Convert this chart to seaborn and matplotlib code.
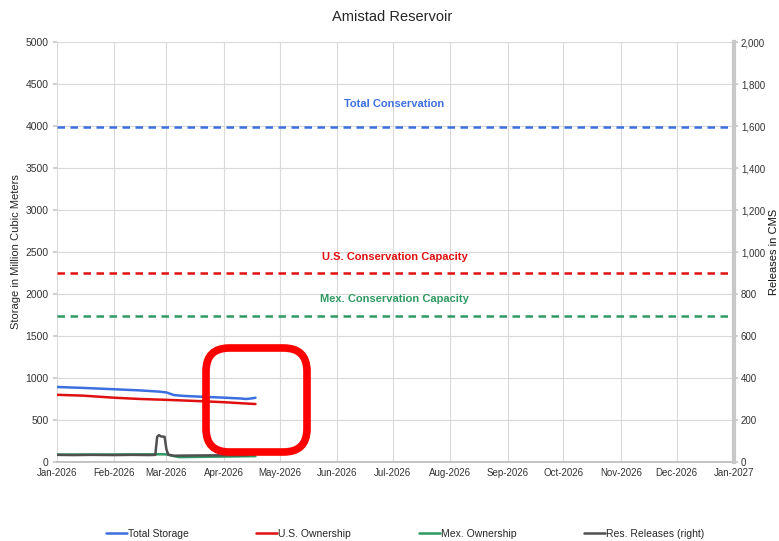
import matplotlib
matplotlib.use("Agg")
import matplotlib.pyplot as plt
import matplotlib.dates as mdates
from matplotlib.patches import FancyBboxPatch
from matplotlib.lines import Line2D
import matplotlib.ticker as mticker
import seaborn as sns
import pandas as pd

sns.set_theme(style="white")
plt.rcParams['font.family'] = ['Liberation Sans', 'DejaVu Sans']

# ---- data ----
total_dates = ["2026-01-01", "2026-01-15", "2026-02-01", "2026-02-15", "2026-02-25", "2026-03-01",
               "2026-03-05", "2026-03-10", "2026-03-20", "2026-04-01", "2026-04-10", "2026-04-13",
               "2026-04-16", "2026-04-18"]
total_storage = [893, 882, 866, 852, 838, 828, 797, 787, 777, 766, 756, 750, 757, 765]

us_dates = ["2026-01-01", "2026-01-15", "2026-02-01", "2026-02-15", "2026-03-01", "2026-03-15",
            "2026-04-01", "2026-04-10", "2026-04-18"]
us_ownership = [800, 790, 765, 750, 740, 728, 712, 700, 690]

mex_dates = ["2026-01-01", "2026-02-01", "2026-02-25", "2026-03-01", "2026-03-05", "2026-03-08",
             "2026-03-20", "2026-04-01", "2026-04-18"]
mex_ownership = [88, 89, 92, 91, 70, 58, 62, 65, 70]

rel_dates = ["2026-01-01", "2026-01-10", "2026-01-20", "2026-02-01", "2026-02-10", "2026-02-20",
             "2026-02-23", "2026-02-24", "2026-02-25", "2026-02-26", "2026-02-27", "2026-02-28",
             "2026-03-01", "2026-03-02", "2026-03-05", "2026-03-15", "2026-04-01", "2026-04-14"]
releases = [34, 33, 34, 33, 34, 33, 34, 120, 128, 122, 121, 120, 60, 35, 30, 31, 32, 32]

ref_names = ["Total Conservation", "U.S. Conservation Capacity", "Mex. Conservation Capacity"]
ref_values = [3985, 2250, 1735]
ref_colors = ["#3c6fe0", "#e01010", "#2e9a62"]

left_ticks = [0, 500, 1000, 1500, 2000, 2500, 3000, 3500, 4000, 4500, 5000]
right_ticks = [0, 200, 400, 600, 800, 1000, 1200, 1400, 1600, 1800, 2000]

c_total = "#3c6fe0"
c_us = "#e01010"
c_mex = "#2e9a62"
c_rel = "#505050"

fig = plt.figure(figsize=(7.79, 5.41), dpi=100)
ax = fig.add_axes([57/779, (541-462)/541, (734-57)/779, (462-42)/541])
ax2 = ax.twinx()

df_t = pd.DataFrame({"date": pd.to_datetime(total_dates), "v": total_storage})
df_u = pd.DataFrame({"date": pd.to_datetime(us_dates), "v": us_ownership})
df_m = pd.DataFrame({"date": pd.to_datetime(mex_dates), "v": mex_ownership})
df_r = pd.DataFrame({"date": pd.to_datetime(rel_dates), "v": releases})

x0 = pd.Timestamp("2026-01-01")
x1 = pd.Timestamp("2027-01-01")
for name, val, col in zip(ref_names, ref_values, ref_colors):
    ax.plot([x0, x1], [val, val], color=col, lw=1.8, ls=(0, (3, 2.2)))

sns.lineplot(data=df_t, x="date", y="v", ax=ax, color=c_total, lw=1.8)
sns.lineplot(data=df_u, x="date", y="v", ax=ax, color=c_us, lw=1.8)
sns.lineplot(data=df_m, x="date", y="v", ax=ax, color=c_mex, lw=1.8)
sns.lineplot(data=df_r, x="date", y="v", ax=ax2, color=c_rel, lw=1.8)

# reference labels
label_y = [4265, 2440, 1935]
for name, val, col, ly in zip(ref_names, ref_values, ref_colors, label_y):
    ax.text(pd.Timestamp("2026-07-02"), ly, name, color=col, fontsize=8, fontweight="bold",
            ha="center", va="center")

ax.set_xlim(x0, x1)
ax.set_ylim(0, 5000)
ax2.set_ylim(0, 2000)
ax.set_yticks(left_ticks)
ax2.set_yticks(right_ticks)
ax2.yaxis.set_major_formatter(mticker.FuncFormatter(lambda v, p: f"{int(v):,}"))

months = pd.date_range("2026-01-01", "2027-01-01", freq="MS")
ax.set_xticks(months)
ax.xaxis.set_major_formatter(mdates.DateFormatter("%b-%Y"))

ax.grid(True, color="#d9d9d9", lw=0.8)
ax.set_axisbelow(True)
ax.set_xlabel("")
ax.set_ylabel("Storage in Million Cubic Meters", fontsize=8, labelpad=3)
ax2.set_xlabel("")
ax2.set_ylabel("")
ax.tick_params(axis="x", labelsize=7, length=3, pad=1, color="#c8c8c8", labelcolor="#333333")
ax.tick_params(axis="y", labelsize=7.5, length=3, pad=3, color="#c8c8c8", labelcolor="#333333")
ax2.tick_params(axis="y", labelsize=7, length=3, pad=2, color="#c8c8c8", labelcolor="#333333")

for a in (ax, ax2):
    for s in ("top", "left"):
        a.spines[s].set_visible(False)
ax.spines["right"].set_visible(False)
ax.spines["bottom"].set_color("#bbbbbb")
ax2.spines["bottom"].set_visible(False)
ax2.spines["right"].set_color("#c8c8c8")
ax2.spines["right"].set_linewidth(3)

fig.text(774/779, 1 - 252/541, "Releases in CMS", rotation=90, ha="center", va="center",
         fontsize=8, color="#111111")
fig.text(392/779, 1 - 17/541, "Amistad Reservoir", ha="center", va="center", fontsize=10.5)

handles = [Line2D([], [], color=c_total, lw=1.8), Line2D([], [], color=c_us, lw=1.8),
           Line2D([], [], color=c_mex, lw=1.8), Line2D([], [], color=c_rel, lw=1.8)]
labels = ["Total Storage", "U.S. Ownership", "Mex. Ownership", "Res. Releases (right)"]
fig.legend(handles, labels, loc="center", bbox_to_anchor=(405/779, 1 - 534/541), ncol=4,
           frameon=False, fontsize=7.5, handlelength=2.0, handletextpad=0.1, columnspacing=6.5)

# red highlight box
box = FancyBboxPatch((206/779, 1 - 452/541), (307 - 206)/779, (452 - 348)/541,
                     boxstyle="round,pad=0.0,rounding_size=0.03",
                     transform=fig.transFigure, fill=False, ec="#ff0000", lw=5.5,
                     mutation_aspect=779/541)
fig.patches.append(box)

fig.savefig("out.png", dpi=100)
